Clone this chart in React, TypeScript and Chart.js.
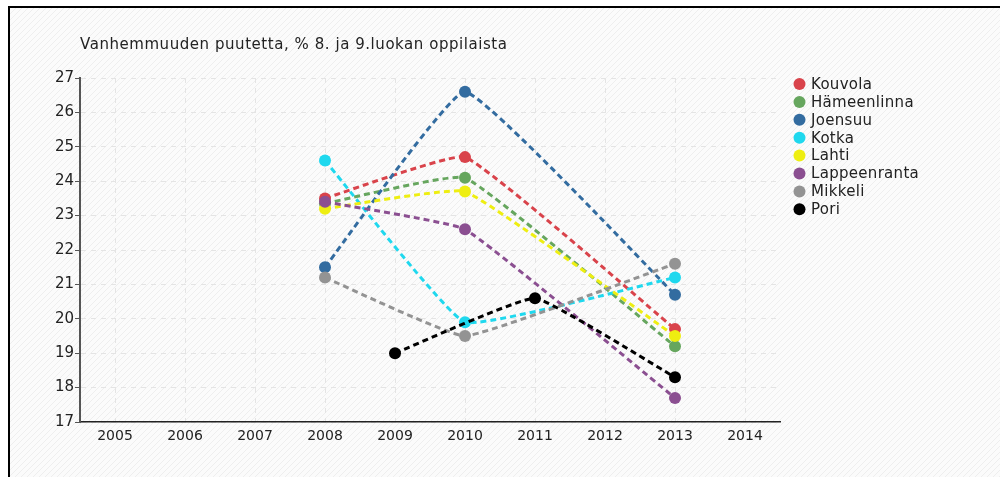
import React, { useEffect, useRef } from "react";
import { Chart, registerables } from "chart.js";

Chart.register(...registerables);

const chartTitle = "Vanhemmuuden puutetta, % 8. ja 9.luokan oppilaista";
const xTickYears = [2005, 2006, 2007, 2008, 2009, 2010, 2011, 2012, 2013, 2014];
const yTickValues = [17, 18, 19, 20, 21, 22, 23, 24, 25, 26, 27];

const mainYears = [2008, 2010, 2013];
const poriYears = [2009, 2011, 2013];

const kouvola = [23.5, 24.7, 19.7];
const hameenlinna = [23.35, 24.1, 19.2];
const joensuu = [21.5, 26.6, 20.7];
const kotka = [24.6, 19.9, 21.2];
const lahti = [23.2, 23.7, 19.5];
const lappeenranta = [23.4, 22.6, 17.7];
const mikkeli = [21.2, 19.5, 21.6];
const pori = [19.0, 20.6, 18.3];

const seriesNames = ["Kouvola", "Hämeenlinna", "Joensuu", "Kotka", "Lahti", "Lappeenranta", "Mikkeli", "Pori"];
const seriesColors = ["#d9434b", "#66a65e", "#336ca0", "#1fd8ee", "#eeee11", "#8b4f91", "#939393", "#000000"];
const seriesYears = [mainYears, mainYears, mainYears, mainYears, mainYears, mainYears, mainYears, poriYears];
const seriesValues = [kouvola, hameenlinna, joensuu, kotka, lahti, lappeenranta, mikkeli, pori];

const FONT = "'DejaVu Sans', sans-serif";

export default function App() {
  const ref = useRef<HTMLCanvasElement | null>(null);

  useEffect(() => {
    document.documentElement.style.overflow = "hidden";
    document.body.style.overflow = "hidden";
    const canvas = ref.current!;

    const pc = document.createElement("canvas");
    pc.width = 6;
    pc.height = 6;
    const pctx = pc.getContext("2d")!;
    pctx.fillStyle = "#fbfbfb";
    pctx.fillRect(0, 0, 6, 6);
    pctx.strokeStyle = "#eeeeee";
    pctx.lineWidth = 1;
    pctx.beginPath();
    pctx.moveTo(-1, 7);
    pctx.lineTo(7, -1);
    pctx.moveTo(-4, 4);
    pctx.lineTo(4, -4);
    pctx.moveTo(2, 10);
    pctx.lineTo(10, 2);
    pctx.stroke();

    const bgPlugin = {
      id: "bg",
      beforeDraw(chart: any) {
        const ctx = chart.ctx;
        ctx.save();
        const pat = ctx.createPattern(pc, "repeat");
        ctx.fillStyle = pat || "#fafafa";
        ctx.fillRect(0, 0, chart.width, chart.height);
        ctx.restore();
      },
    };

    const textPlugin = {
      id: "texts",
      afterDraw(chart: any) {
        const ctx = chart.ctx;
        ctx.save();
        ctx.fillStyle = "#222";
        ctx.font = `15px ${FONT}`;
        (ctx as any).letterSpacing = "0.55px";
        ctx.textBaseline = "middle";
        ctx.textAlign = "left";
        ctx.fillText(chartTitle, 70, 37);
        (ctx as any).letterSpacing = "0.3px";
        seriesNames.forEach((name, i) => {
          const y = 76 + i * 17.9;
          ctx.fillStyle = seriesColors[i];
          ctx.beginPath();
          ctx.arc(789.5, y, 6, 0, Math.PI * 2);
          ctx.fill();
          ctx.fillStyle = "#222";
          ctx.fillText(name, 801, y + 1);
        });
        ctx.restore();
      },
    };

    const datasets = seriesNames.map((name, i) => ({
      label: name,
      data: seriesYears[i].map((yr, j) => ({ x: yr, y: seriesValues[i][j] })),
      borderColor: seriesColors[i],
      backgroundColor: seriesColors[i],
      borderWidth: 3,
      borderDash: [6, 4],
      pointRadius: 6,
      pointHoverRadius: 6,
      pointBorderWidth: 0,
      pointBackgroundColor: seriesColors[i],
      tension: 0.1,
      fill: false,
      order: -i,
    }));

    const chart = new Chart(canvas, {
      type: "line",
      data: { datasets },
      plugins: [bgPlugin, textPlugin],
      options: {
        animation: false,
        responsive: true,
        maintainAspectRatio: false,
        layout: { padding: { left: 0, top: 70, right: 220, bottom: 25 } },
        plugins: {
          legend: { display: false },
          title: { display: false },
          tooltip: { enabled: false },
        },
        scales: {
          x: {
            type: "linear",
            min: 2004.5,
            max: 2014.5,
            afterBuildTicks: (scale: any) => {
              scale.ticks = xTickYears.map((v) => ({ value: v }));
            },
            afterFit: (scale: any) => {
              scale.height = 30;
            },
            ticks: {
              includeBounds: false,
              autoSkip: false,
              maxRotation: 0,
              padding: 6,
              color: "#222",
              font: { family: FONT, size: 14 },
              callback: (v: any) => String(v),
            },
            grid: { color: "#e4e4e4", lineWidth: 1, drawTicks: false },
            border: { display: true, color: "#222", width: 1.5, dash: [5, 5] },
          },
          y: {
            type: "linear",
            min: 17,
            max: 27,
            afterBuildTicks: (scale: any) => {
              scale.ticks = yTickValues.map((v) => ({ value: v }));
            },
            afterFit: (scale: any) => {
              scale.width = 70;
            },
            ticks: {
              autoSkip: false,
              padding: 1,
              color: "#222",
              font: { family: FONT, size: 15 },
              callback: (v: any) => String(v),
            },
            grid: { color: "#e4e4e4", lineWidth: 1, drawTicks: true, tickLength: 5, tickColor: "#555", tickBorderDash: [] },
            border: { display: true, color: "#555", width: 2, dash: [5, 5] },
          },
        },
      },
    });
    return () => chart.destroy();
  }, []);

  return (
    <div
      style={{
        position: "absolute",
        top: 6,
        left: 8,
        borderTop: "2px solid #000",
        borderLeft: "2px solid #000",
        width: 990,
        height: 469,
      }}
    >
      <canvas ref={ref} />
    </div>
  );
}
